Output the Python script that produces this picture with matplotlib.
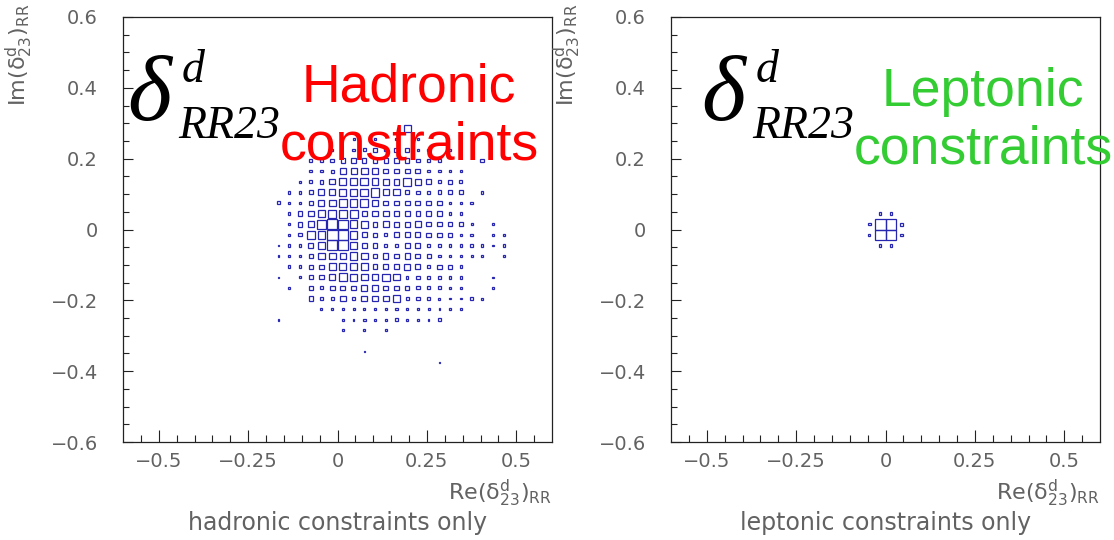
import numpy as np
import matplotlib
matplotlib.use('Agg')
import matplotlib.pyplot as plt
from matplotlib.patches import Rectangle

W, H = 1114, 540

# 40 x 40 binning of Re and Im over [-0.6, 0.6]
n_bins = 40
lo, hi = -0.6, 0.6

x_ticks = [-0.5, -0.25, 0, 0.25, 0.5]
x_tick_labels = ['\u22120.5', '\u22120.25', '0', '0.25', '0.5']
y_ticks = [-0.6, -0.4, -0.2, 0, 0.2, 0.4, 0.6]
y_tick_labels = ['\u22120.6', '\u22120.4', '\u22120.2', '0', '0.2', '0.4', '0.6']

# box contents per Im row: (row index, first Re column, contents...)
hadronic_rows = [
    (29, 26, [5.5]),
    (28, 21, [0.8, 0, 1, 0, 0.8, 0, 0.8]),
    (27, 19, [1, 0, 1, 1.5, 2.5, 1.5, 2.5, 2.5, 1, 1, 0, 0.8]),
    (26, 17, [1, 1.5, 2, 2.5, 3, 2.5, 3, 2.5, 2.5, 2.5, 2, 1, 1, 0, 0, 0, 2]),
    (25, 17, [1, 1, 1.5, 4, 4, 5, 5, 3, 3, 3, 3, 1, 1, 1, 1]),
    (24, 16, [0.8, 1, 2, 3.5, 5, 5, 6, 5, 4, 4, 6.5, 4, 3, 1, 2, 1.5]),
    (23, 15, [1, 1, 2, 4, 4, 5, 6, 6, 7, 4, 4.5, 2, 1.5, 1, 2, 2, 2, 0, 1]),
    (22, 14, [1.5, 1, 1, 2, 4, 5, 6, 6, 6, 4.5, 3, 3, 3, 3, 3, 3, 1, 1, 1]),
    (21, 15, [1, 2.5, 4, 5, 6.5, 6.5, 6.5, 3.5, 4, 4, 3, 3, 2.5, 3, 2.5, 1, 1]),
    (20, 15, [1, 3, 4, 8, 9, 8, 6, 5, 3, 4, 3, 3.5, 4, 2.5, 2.5, 2, 2, 0.8,
              0, 0.5]),
    (19, 15, [1, 1.5, 6, 6, 10, 10, 6, 3, 2.5, 1.5, 3, 3, 3, 2.5, 2.5, 2.5,
              1, 1, 0, 0.8, 0.8]),
    (18, 14, [0.5, 1, 1, 3, 4.5, 9, 9, 5.5, 3, 2.5, 1.5, 1.5, 3, 3, 1.5, 1,
              1, 1, 1, 1, 0.5, 1]),
    (17, 14, [0.5, 1, 1.2, 2, 5, 5, 4.5, 6, 5, 3, 3.5, 3, 3.5, 3, 2, 1, 1,
              0.8, 0.8, 0.8, 0, 0.5]),
    (16, 15, [1, 1, 2.5, 2.5, 5, 5.5, 5, 5, 3, 3, 3, 4, 3, 1.5, 2.5, 2, 1]),
    (15, 14, [0.5, 0, 0.8, 2.5, 2.5, 4.5, 6.5, 5, 4.5, 4.5, 6, 4.5, 1, 1.5,
              1, 1, 1, 1, 0, 0, 0.5]),
    (14, 15, [0.8, 0, 2.5, 1.5, 3, 3, 3, 4, 4, 3, 3, 2.5, 1.5, 1.5, 1.5, 0.5,
              1, 0, 0, 0.5]),
    (13, 17, [2.5, 1, 1.5, 3.5, 2, 4, 4, 4, 5, 1.5, 1.5, 1, 0.8, 0.5, 0.5,
              1.2, 0.8]),
    (12, 18, [0.8, 0.8, 0.8, 0.8, 0.8, 1, 0.8, 0.8, 0.8, 0.5, 0.8, 0.5, 0.8,
              0.5]),
    (11, 14, [0.5, 0, 0, 0, 0, 0, 0.8, 0.5, 1, 0.5, 1, 1.2, 1, 0.5, 0.5,
              1.5]),
    (10, 20, [0.8, 0, 0.8, 0, 0.8]),
    (8, 22, [0.5]),
    (7, 29, [0.5]),
]

leptonic_rows = [
    (21, 19, [1.2, 1.2]),
    (20, 18, [1, 10, 10, 1.5]),
    (19, 18, [0.8, 10, 10, 1]),
    (18, 19, [1, 1]),
]

plt.rcParams['font.family'] = 'DejaVu Sans'
plt.rcParams['mathtext.fontset'] = 'dejavusans'

AXIS_GREY = '#626262'
BOX_BLUE = '#2626b0'


def fill_grid(rows):
    grid = np.zeros((n_bins, n_bins))
    for j, i0, vals in rows:
        grid[j, i0:i0 + len(vals)] = vals
    return grid


def px(x, y):
    # pixel position (from top left) to figure fraction
    return x / W, 1 - y / H


def draw_boxes(ax, grid):
    edges = np.linspace(lo, hi, n_bins + 1)
    centres = 0.5 * (edges[:-1] + edges[1:])
    cell = edges[1] - edges[0]
    vmax = grid.max()
    for j in range(n_bins):
        for i in range(n_bins):
            v = grid[j, i]
            if v <= 0:
                continue
            side = cell * (v / vmax) ** 0.65
            ax.add_patch(Rectangle((centres[i] - side / 2, centres[j] - side / 2),
                                   side, side, fill=False,
                                   edgecolor=BOX_BLUE, linewidth=0.9))


def style_axes(ax):
    ax.set_xlim(lo, hi)
    ax.set_ylim(lo, hi)
    ax.set_xticks(x_ticks)
    ax.set_xticklabels(x_tick_labels)
    ax.set_yticks(y_ticks)
    ax.set_yticklabels(y_tick_labels)
    ax.set_xticks(np.arange(-0.55, 0.56, 0.05), minor=True)
    ax.set_yticks(np.arange(-0.55, 0.56, 0.05), minor=True)
    ax.tick_params(which='both', direction='in', top=False, right=False,
                   width=0.8, color='#222222', labelcolor=AXIS_GREY,
                   labelsize=14)
    ax.tick_params(axis='x', which='major', length=8.5, pad=7)
    ax.tick_params(axis='x', which='minor', length=5)
    ax.tick_params(axis='y', which='major', length=7.5, pad=18)
    ax.tick_params(axis='y', which='minor', length=4.5)
    for s in ax.spines.values():
        s.set_linewidth(0.9)
        s.set_color('#222222')


fig = plt.figure(figsize=(W / 100, H / 100), dpi=100)

panels = [
    (123, fill_grid(hadronic_rows), 'hadronic constraints only',
     ('Hadronic', 'constraints'), '#ff0000', 409, 0, 127),
    (671, fill_grid(leptonic_rows), 'leptonic constraints only',
     ('Leptonic', 'constraints'), '#33cc33', 983, 5, 701),
]

for left, grid, caption, words, colour, word_x, word_dy, sym_x in panels:
    ax = fig.add_axes([left / W, (H - 442) / H, 429 / W, 425 / H])
    draw_boxes(ax, grid)
    style_axes(ax)

    # ROOT style axis titles
    fig.text(*px(left + 429, 500), r'$\mathrm{Re(\delta^{d}_{23})_{RR}}$',
             ha='right', va='baseline', fontsize=16, color=AXIS_GREY)
    fig.text(*px(left - 104, 4), r'$\mathrm{Im(\delta^{d}_{23})_{RR}}$',
             ha='center', va='top', rotation=90, fontsize=16,
             color=AXIS_GREY)
    fig.text(*px(left + 215, 530), caption, ha='center', va='baseline',
             fontsize=17, color=AXIS_GREY)

    # delta^d_RR23 symbol
    fig.text(*px(sym_x, 120), '\u03b4', fontfamily='Liberation Serif',
             style='italic', fontsize=68, va='baseline', ha='left',
             zorder=5)
    fig.text(*px(sym_x + 55, 82), 'd', fontfamily='Liberation Serif',
             style='italic', fontsize=33, va='baseline', ha='left', zorder=5)
    fig.text(*px(sym_x + 51, 138), 'RR23', fontfamily='Liberation Serif',
             style='italic', fontsize=33, va='baseline', ha='left', zorder=5)

    fig.text(*px(word_x, 101 + word_dy), words[0],
             fontfamily='Liberation Sans', fontsize=38.5, color=colour,
             ha='center', va='baseline', zorder=6)
    fig.text(*px(word_x, 159 + word_dy), words[1],
             fontfamily='Liberation Sans', fontsize=38.5, color=colour,
             ha='center', va='baseline', zorder=6)

fig.savefig('out.png', dpi=100)
